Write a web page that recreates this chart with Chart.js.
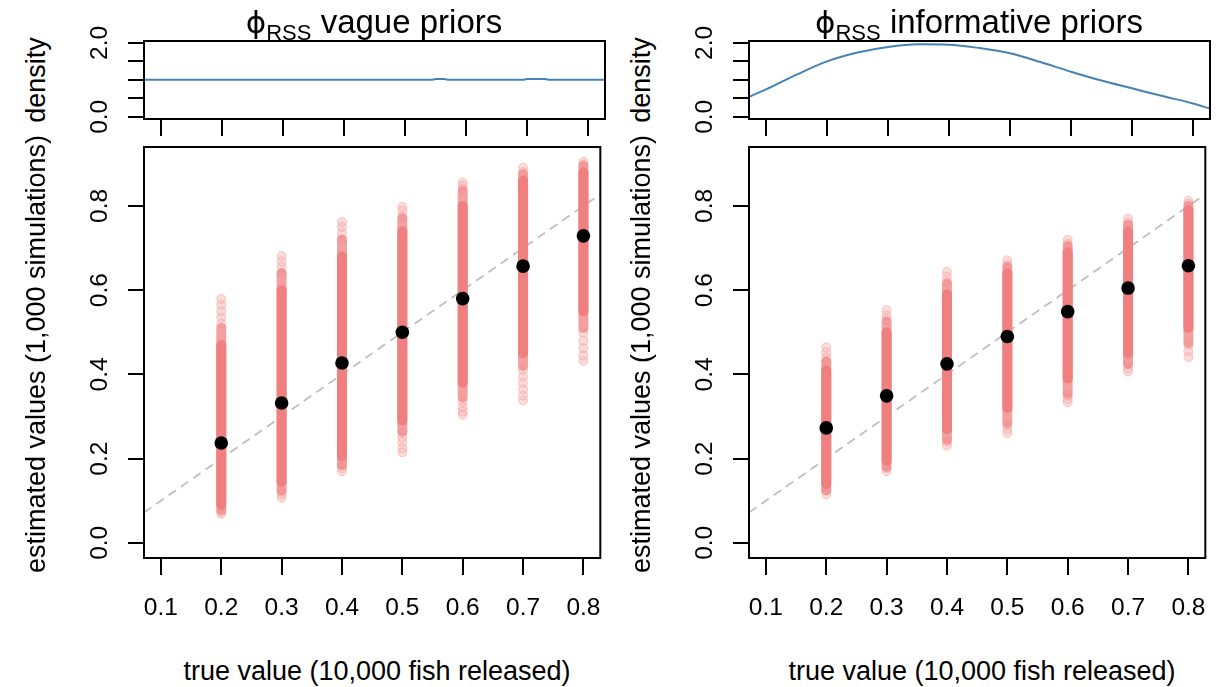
<!DOCTYPE html>
<html>
<head>
<meta charset="utf-8">
<script src="https://cdn.jsdelivr.net/npm/chart.js@4.4.1/dist/chart.umd.min.js"></script>
<style>
  html, body { margin: 0; padding: 0; background: #fff; }
  body { width: 1229px; height: 687px; position: relative; overflow: hidden; font-family: "Liberation Sans", Arial, sans-serif; color: #000; }
  canvas { position: absolute; }
  .txt { position: absolute; white-space: nowrap; line-height: 1; transform: translate(-50%, -50%); }
  .rot { transform: translate(-50%, -50%) rotate(-90deg); }
  .main { font-size: 33px; }
  .main .phi { font-family: "DejaVu Sans", sans-serif; font-size: 31px; }
  .main .sub { font-size: 22px; position: relative; top: 7px; }
  .lab { font-size: 27px; }
</style>
</head>
<body>
<canvas id="topL" width="560" height="133" style="left:60px;top:10px"></canvas>
<canvas id="botL" width="560" height="500" style="left:60px;top:137px"></canvas>
<canvas id="topR" width="560" height="133" style="left:665px;top:10px"></canvas>
<canvas id="botR" width="560" height="500" style="left:665px;top:137px"></canvas>

<div class="txt main" style="left:374px;top:21px"><span class="phi">ϕ</span><span class="sub">RSS</span> vague priors</div>
<div class="txt main" style="left:979px;top:21px"><span class="phi">ϕ</span><span class="sub">RSS</span> informative priors</div>
<div class="txt lab rot" style="left:36px;top:80px">density</div>
<div class="txt lab rot" style="left:36px;top:354px">estimated values (1,000 simulations)</div>
<div class="txt lab rot" style="left:641px;top:80px">density</div>
<div class="txt lab rot" style="left:641px;top:354px">estimated values (1,000 simulations)</div>
<div class="txt lab" style="left:377px;top:671px">true value (10,000 fish released)</div>
<div class="txt lab" style="left:982px;top:671px">true value (10,000 fish released)</div>

<script>
const FONT = '"Liberation Sans", Arial, sans-serif';

// ---- data ----
const xMin = 0.072, xMax = 0.828;
const xTicks = [0.1, 0.2, 0.3, 0.4, 0.5, 0.6, 0.7, 0.8];
const trueVals = [0.2, 0.3, 0.4, 0.5, 0.6, 0.7, 0.8];

const estTicks = [0, 0.2, 0.4, 0.6, 0.8];
const estTickLabels = ['0.0', '0.2', '0.4', '0.6', '0.8'];
const densTicks = [0, 0.5, 1, 1.5, 2];
const densTickLabels = ['0.0', '', '', '', '2.0'];

// vague priors
const vagueMedian = [0.237, 0.332, 0.427, 0.500, 0.580, 0.657, 0.729];
const vagueMin    = [0.069, 0.107, 0.170, 0.215, 0.304, 0.338, 0.432];
const vagueBandLo = [0.078, 0.125, 0.185, 0.265, 0.345, 0.420, 0.510];
const vagueCoreLo = [0.090, 0.145, 0.205, 0.290, 0.380, 0.450, 0.550];
const vagueCoreHi = [0.470, 0.600, 0.680, 0.740, 0.800, 0.860, 0.880];
const vagueBandHi = [0.510, 0.640, 0.720, 0.770, 0.835, 0.875, 0.895];
const vagueMax    = [0.579, 0.681, 0.762, 0.798, 0.855, 0.891, 0.905];
const vagueTails = [
  [0.069, 0.074, 0.520, 0.535, 0.550, 0.565, 0.579],
  [0.107, 0.115, 0.122, 0.640, 0.655, 0.668, 0.681],
  [0.170, 0.178, 0.185, 0.720, 0.735, 0.750, 0.762],
  [0.215, 0.225, 0.240, 0.250, 0.262, 0.775, 0.788, 0.798],
  [0.304, 0.312, 0.322, 0.335, 0.840, 0.848, 0.855],
  [0.338, 0.350, 0.365, 0.380, 0.395, 0.410, 0.880, 0.891],
  [0.432, 0.445, 0.462, 0.480, 0.500, 0.898, 0.905]
];

// informative priors
const infoMedian = [0.273, 0.349, 0.425, 0.490, 0.549, 0.605, 0.658];
const infoMin    = [0.115, 0.170, 0.231, 0.261, 0.334, 0.407, 0.441];
const infoBandLo = [0.125, 0.180, 0.245, 0.285, 0.355, 0.425, 0.475];
const infoCoreLo = [0.140, 0.195, 0.270, 0.320, 0.390, 0.450, 0.510];
const infoCoreHi = [0.410, 0.500, 0.590, 0.640, 0.690, 0.740, 0.790];
const infoBandHi = [0.430, 0.525, 0.615, 0.655, 0.705, 0.755, 0.800];
const infoMax    = [0.464, 0.553, 0.644, 0.671, 0.720, 0.770, 0.812];
const infoTails = [
  [0.115, 0.125, 0.430, 0.440, 0.452, 0.464],
  [0.170, 0.178, 0.530, 0.540, 0.553],
  [0.231, 0.240, 0.620, 0.632, 0.644],
  [0.261, 0.270, 0.280, 0.660, 0.671],
  [0.334, 0.342, 0.350, 0.710, 0.720],
  [0.407, 0.415, 0.425, 0.760, 0.770],
  [0.441, 0.455, 0.470, 0.805, 0.812]
];

// prior densities
const vagueDensX = [0.072, 0.545, 0.550, 0.565, 0.570, 0.695, 0.700, 0.730, 0.735, 0.828];
const vagueDensY = [1.00, 1.00, 1.02, 1.02, 1.00, 1.00, 1.02, 1.02, 1.00, 1.00];
const infoDensX = [0.072, 0.10, 0.15, 0.20, 0.25, 0.30, 0.35, 0.40, 0.45, 0.50, 0.55, 0.60, 0.65, 0.70, 0.75, 0.80, 0.828];
const infoDensY = [0.54, 0.74, 1.14, 1.50, 1.74, 1.89, 1.96, 1.95, 1.86, 1.72, 1.48, 1.22, 0.98, 0.77, 0.56, 0.36, 0.22];

const PINK = '240,128,128';

// draws the R-style box and rotated y tick labels
const rPlot = {
  id: 'rPlot',
  afterDraw(chart, args, opts) {
    const { ctx, chartArea: a, scales } = chart;
    ctx.save();
    ctx.strokeStyle = '#000';
    ctx.lineWidth = 2;
    ctx.strokeRect(a.left, a.top, a.right - a.left, a.bottom - a.top);
    ctx.fillStyle = '#000';
    ctx.font = '24.5px ' + FONT;
    ctx.textAlign = 'center';
    ctx.textBaseline = 'alphabetic';
    opts.ticks.forEach((v, i) => {
      const lab = opts.labels[i];
      if (!lab) return;
      const py = scales.y.getPixelForValue(v);
      ctx.save();
      ctx.translate(a.left - 37, py);
      ctx.rotate(-Math.PI / 2);
      ctx.fillText(lab, 0, 0);
      ctx.restore();
    });
    ctx.restore();
  }
};

function baseOptions(yMin, yMax, yTicks, yLabels, padTop, xAxisHeight, showXLabels) {
  return {
    responsive: false,
    animation: false,
    events: [],
    layout: { padding: { top: padTop, right: 15, left: 0, bottom: 0 } },
    plugins: {
      legend: { display: false },
      tooltip: { enabled: false },
      rPlot: { ticks: yTicks, labels: yLabels }
    },
    scales: {
      x: {
        type: 'linear', min: xMin, max: xMax,
        afterBuildTicks: s => { s.ticks = xTicks.map(v => ({ value: v })); },
        afterFit: s => { s.height = xAxisHeight; },
        border: { display: false },
        grid: { drawOnChartArea: false, drawTicks: true, tickLength: 17, color: '#000', lineWidth: 2 },
        ticks: {
          display: showXLabels, autoSkip: false, maxRotation: 0, color: '#000', padding: 19,
          font: { family: FONT, size: 24.5 },
          callback: v => v.toFixed(1)
        }
      },
      y: {
        type: 'linear', min: yMin, max: yMax,
        afterBuildTicks: s => { s.ticks = yTicks.map(v => ({ value: v })); },
        afterFit: s => { s.width = 84; },
        border: { display: false },
        grid: { drawOnChartArea: false, drawTicks: true, tickLength: 16, color: '#000', lineWidth: 2 },
        ticks: { display: false }
      }
    }
  };
}

function segment(x, lo, hi, color, width, order) {
  return {
    data: [{ x: x, y: lo }, { x: x, y: hi }],
    showLine: true, borderColor: color, borderWidth: width, borderCapStyle: 'round',
    pointRadius: 0, order: order
  };
}

function estimatePanel(id, median, mins, bandLo, coreLo, coreHi, bandHi, maxs, tails) {
  const ds = [];
  ds.push({
    data: [{ x: xMin, y: xMin }, { x: xMax, y: xMax }],
    showLine: true, borderColor: '#BEBEBE', borderWidth: 1.8, borderDash: [9, 6],
    pointRadius: 0, order: 10
  });
  trueVals.forEach((x, i) => {
    ds.push(segment(x, mins[i], maxs[i], `rgba(${PINK},0.16)`, 9, 7));
    ds.push(segment(x, bandLo[i], bandHi[i], `rgba(${PINK},0.7)`, 10, 4));
    ds.push(segment(x, coreLo[i], coreHi[i], `rgb(${PINK})`, 10, 3));
  });
  ds.push({
    data: trueVals.flatMap((x, i) => tails[i].map(y => ({ x: x, y: y }))),
    pointRadius: 4.5, pointBackgroundColor: `rgba(${PINK},0.15)`,
    pointBorderColor: `rgba(${PINK},0.35)`, pointBorderWidth: 1, order: 5
  });
  ds.push({
    data: trueVals.map((x, i) => ({ x: x, y: median[i] })),
    pointRadius: 6.8, pointBackgroundColor: '#000', pointBorderColor: '#000', pointBorderWidth: 0, order: 1
  });
  new Chart(document.getElementById(id), {
    type: 'scatter',
    data: { datasets: ds },
    options: baseOptions(-0.036, 0.94, estTicks, estTickLabels, 10, 79, true),
    plugins: [rPlot]
  });
}

function densityPanel(id, xs, ys, tension) {
  new Chart(document.getElementById(id), {
    type: 'scatter',
    data: {
      datasets: [{
        data: xs.map((x, i) => ({ x: x, y: ys[i] })),
        showLine: true, borderColor: '#4682B4', borderWidth: 2, pointRadius: 0,
        tension: tension, cubicInterpolationMode: tension ? 'monotone' : 'default'
      }]
    },
    options: baseOptions(-0.06, 2.05, densTicks, densTickLabels, 31, 24, false),
    plugins: [rPlot]
  });
}

densityPanel('topL', vagueDensX, vagueDensY, 0);
densityPanel('topR', infoDensX, infoDensY, 0.4);
estimatePanel('botL', vagueMedian, vagueMin, vagueBandLo, vagueCoreLo, vagueCoreHi, vagueBandHi, vagueMax, vagueTails);
estimatePanel('botR', infoMedian, infoMin, infoBandLo, infoCoreLo, infoCoreHi, infoBandHi, infoMax, infoTails);
</script>
</body>
</html>
